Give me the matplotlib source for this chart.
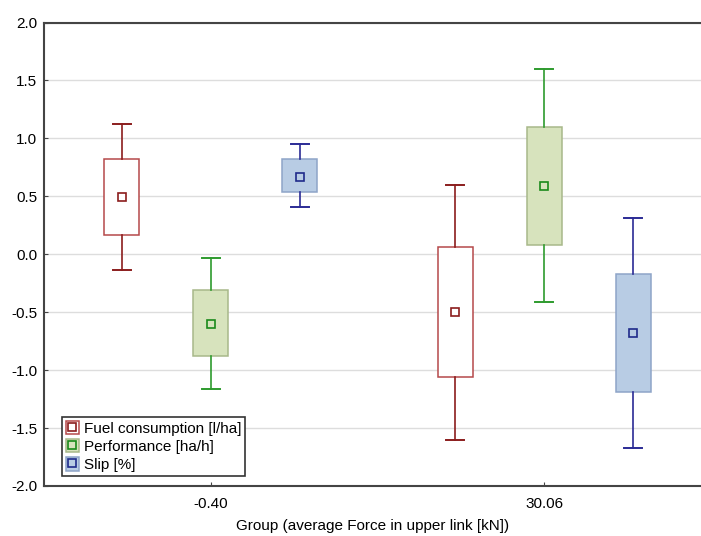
import matplotlib
matplotlib.use("Agg")
from matplotlib import pyplot as plt
from matplotlib.patches import Rectangle
from matplotlib.lines import Line2D

plt.rcParams['font.family'] = ['Liberation Sans', 'DejaVu Sans']
plt.rcParams['font.size'] = 11

groups = ['-0.40', '30.06']
series = ['Fuel consumption [l/ha]', 'Performance [ha/h]', 'Slip [%]']

# per series: values for group -0.40 and 30.06
means = {
    'Fuel consumption [l/ha]': [0.49, -0.50],
    'Performance [ha/h]': [-0.60, 0.59],
    'Slip [%]': [0.67, -0.68],
}
box_low = {
    'Fuel consumption [l/ha]': [0.17, -1.06],
    'Performance [ha/h]': [-0.88, 0.08],
    'Slip [%]': [0.54, -1.19],
}
box_high = {
    'Fuel consumption [l/ha]': [0.82, 0.06],
    'Performance [ha/h]': [-0.31, 1.10],
    'Slip [%]': [0.82, -0.17],
}
whisk_low = {
    'Fuel consumption [l/ha]': [-0.14, -1.60],
    'Performance [ha/h]': [-1.16, -0.41],
    'Slip [%]': [0.41, -1.67],
}
whisk_high = {
    'Fuel consumption [l/ha]': [1.12, 0.60],
    'Performance [ha/h]': [-0.03, 1.60],
    'Slip [%]': [0.95, 0.31],
}

fills = ['white', '#d7e3bd', '#b8cce4']
box_edges = ['#b5494a', '#a8b88a', '#8ea4c8']
line_cols = ['#8b1d1d', '#2e9b2e', '#2b2b95']
marker_cols = ['#8b1d1d', '#1a8a1a', '#1f2a8a']
offsets = [-0.267, 0.0, 0.267]

fig = plt.figure(figsize=(7.01, 5.36), dpi=100)
ax = fig.add_axes([0.0628, 0.0933, 0.9372, 0.8647])

handles = []
for i, s in enumerate(series):
    stats = []
    for g in range(len(groups)):
        stats.append({
            'med': means[s][g], 'mean': means[s][g],
            'q1': box_low[s][g], 'q3': box_high[s][g],
            'whislo': whisk_low[s][g], 'whishi': whisk_high[s][g],
            'fliers': [],
        })
    pos = [g + offsets[i] for g in range(len(groups))]
    ax.bxp(stats, positions=pos, widths=0.105, capwidths=0.054,
           patch_artist=True, showmeans=True, showfliers=False,
           boxprops=dict(facecolor=fills[i], edgecolor=box_edges[i], linewidth=1.1),
           whiskerprops=dict(color=line_cols[i], linewidth=1.2),
           capprops=dict(color=line_cols[i], linewidth=1.4),
           medianprops=dict(linewidth=0),
           meanprops=dict(marker='s', markersize=6, markerfacecolor=fills[i],
                          markeredgecolor=marker_cols[i], markeredgewidth=1.2),
           manage_ticks=False)
    patch = Rectangle((0, 0), 1, 1, facecolor=fills[i], edgecolor=box_edges[i], linewidth=1.1)
    mk = Line2D([], [], linestyle='none', marker='s', markersize=6,
                markerfacecolor=fills[i], markeredgecolor=marker_cols[i], markeredgewidth=1.2)
    handles.append((patch, mk))

ax.set_xlim(-0.5, 1.47)
ax.set_ylim(-2.0, 2.0)
ax.set_yticks([-2.0, -1.5, -1.0, -0.5, 0.0, 0.5, 1.0, 1.5, 2.0])
ax.set_yticklabels(['%.1f' % v for v in ax.get_yticks()])
ax.set_xticks(range(len(groups)))
ax.set_xticklabels(groups)
ax.tick_params(direction='in', length=3, color='#444444', pad=5)
ax.tick_params(axis='x', pad=8)
ax.yaxis.grid(True, color='#dddddd', linewidth=1)
ax.set_axisbelow(True)
for sp in ['left', 'top', 'bottom']:
    ax.spines[sp].set_color('#444444')
    ax.spines[sp].set_linewidth(1.5)
ax.spines['right'].set_visible(False)
ax.set_xlabel('Group (average Force in upper link [kN])', labelpad=6)

leg = ax.legend(handles, series, loc='lower left', bbox_to_anchor=(0.027, 0.022),
                fancybox=False, framealpha=1, edgecolor='#333333',
                handlelength=0.85, handleheight=1.0, handletextpad=0.35,
                borderpad=0.25, labelspacing=0.2, borderaxespad=0.0)
leg.get_frame().set_linewidth(1.2)

fig.savefig('out.png', dpi=100)
